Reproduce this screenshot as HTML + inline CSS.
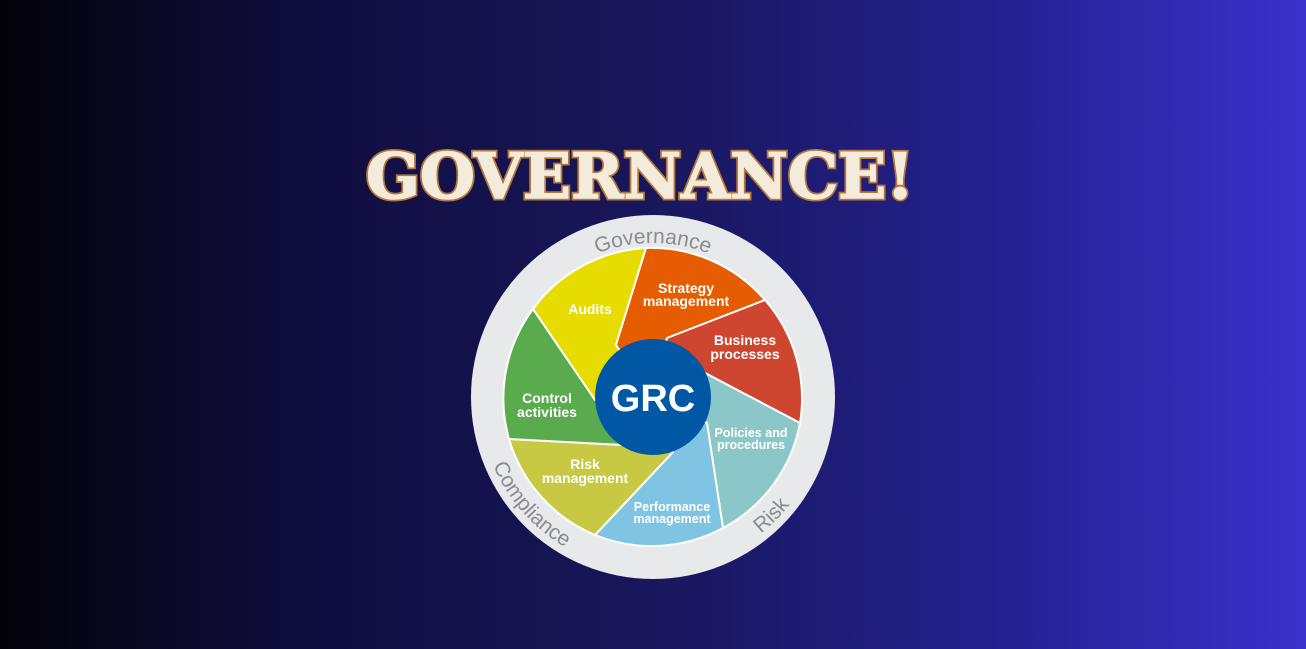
<!DOCTYPE html>
<html><head><meta charset="utf-8"><style>
html,body{margin:0;padding:0;width:1306px;height:649px;overflow:hidden}
body{background:linear-gradient(90deg,#030208 0%,#0f0d3c 22%,#181658 48%,#23208c 75%,#3a31cc 100%)}
svg{position:absolute;left:0;top:0}
</style></head><body>
<svg width="1306" height="649" viewBox="0 0 1306 649">
<text x="640" y="198" text-anchor="middle" textLength="548" lengthAdjust="spacingAndGlyphs" font-family="'DejaVu Serif','Liberation Serif',serif" font-weight="bold" font-size="63" fill="#f3ecdc" stroke="#b5773a" stroke-width="5" paint-order="stroke">GOVERNANCE!</text>
<text x="640" y="198" text-anchor="middle" textLength="548" lengthAdjust="spacingAndGlyphs" font-family="'DejaVu Serif','Liberation Serif',serif" font-weight="bold" font-size="63" fill="#f3ecdc" stroke="#f3ecdc" stroke-width="1.5">GOVERNANCE!</text>
<circle cx="653" cy="397" r="182" fill="#e8e9eb"/>
<g id="segs" stroke="#ffffff" stroke-width="2" stroke-linejoin="round"></g>
<circle cx="653" cy="397" r="58" fill="#0058a5"/>
<text x="653" y="411" text-anchor="middle" font-family="'Liberation Sans',sans-serif" font-weight="bold" font-size="38" fill="#fff">GRC</text>
<defs>
<path id="topArc" d="M499,397 A154,154 0 0 1 807,397"/>
<path id="botArc" d="M479,397 A174,174 0 0 0 827,397"/>
</defs>
<g font-family="'Liberation Sans',sans-serif" font-size="21" fill="#8a8b90">
<text><textPath href="#topArc" startOffset="50%" text-anchor="middle">Governance</textPath></text>
<text><textPath href="#botArc" startOffset="23%" text-anchor="middle">Compliance</textPath></text>
<text><textPath href="#botArc" startOffset="75%" text-anchor="middle">Risk</textPath></text>
</g>
<g font-family="'Liberation Sans',sans-serif" font-weight="bold" fill="#fff" text-anchor="middle" font-size="14">
<text x="590" y="314">Audits</text>
<text x="686" y="293"><tspan x="686">Strategy</tspan><tspan x="686" dy="13">management</tspan></text>
<text x="745" y="345"><tspan x="745">Business</tspan><tspan x="745" dy="14">processes</tspan></text>
<text x="547" y="403"><tspan x="547">Control</tspan><tspan x="547" dy="14">activities</tspan></text>
<text x="585" y="469"><tspan x="585">Risk</tspan><tspan x="585" dy="14">management</tspan></text>
<text x="751" y="437" font-size="12.5"><tspan x="751">Policies and</tspan><tspan x="751" dy="12">procedures</tspan></text>
<text x="672" y="511" font-size="12.5"><tspan x="672">Performance</tspan><tspan x="672" dy="12">management</tspan></text>
</g>
</svg>
<script>
const segNames=['audits','strategy','business','policies','performance','risk-management','control'];
const segColors=['#e6dc00','#e65c00','#cf4630','#8bc6c8','#80c4e4','#c6c941','#5aab4e'];
const innerPts=[[595,400],[616,345],[667,338],[705,373],[707,423],[673,452],[623,445]];
const outerPts=[[533,309],[646,248],[765,300],[800,423],[723,528],[595,535],[509,439]];
const g=document.getElementById('segs');
for(let i=0;i<segNames.length;i++){
  const j=(i+1)%segNames.length;
  const a=outerPts[i],b=outerPts[j],ia=innerPts[i],ib=innerPts[j];
  const d=`M${ia[0]},${ia[1]} L${a[0]},${a[1]} A150,150 0 0 1 ${b[0]},${b[1]} L${ib[0]},${ib[1]} L653,397 Z`;
  const p=document.createElementNS('http://www.w3.org/2000/svg','path');
  p.setAttribute('d',d);p.setAttribute('fill',segColors[i]);
  
  
  g.appendChild(p);
}
</script>
</body></html>
